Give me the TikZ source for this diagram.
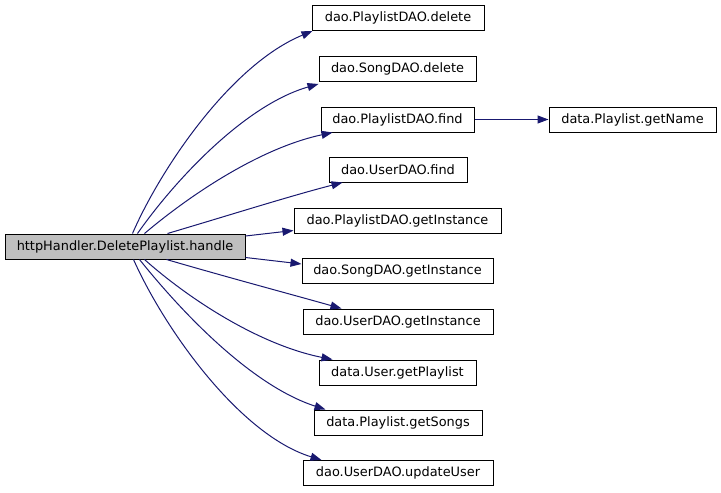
\documentclass[tikz,border=0pt]{standalone}
\usepackage{fontspec}
\setmainfont{DejaVu Sans}
\usetikzlibrary{arrows.meta}
\definecolor{edgeblue}{HTML}{191970}
\definecolor{mainfill}{HTML}{BFBFBF}
\begin{document}
\begin{tikzpicture}[x=1pt,y=-1pt,
  fn/.style={draw=black,line width=1pt,rectangle,inner sep=0pt,minimum height=25pt,
    font=\fontsize{12.9}{15}\selectfont,text=black},
  call/.style={draw=edgeblue,line width=1pt,-{Triangle[length=11pt,width=8pt]},fill=none}]
\useasboundingbox (0,0) rectangle (721,493);
\node[fn,fill=mainfill,minimum width=240pt] (main) at (125,246.5) {httpHandler.DeletePlaylist.handle};
\node[fn,minimum width=172pt] (pdel) at (398,18) {dao.PlaylistDAO.delete};
\node[fn,minimum width=157pt] (sdel) at (397.5,69) {dao.SongDAO.delete};
\node[fn,minimum width=153pt] (pfind) at (397.5,119.5) {dao.PlaylistDAO.find};
\node[fn,minimum width=167pt] (getname) at (632.5,119.5) {data.Playlist.getName};
\node[fn,minimum width=138pt] (ufind) at (398,169.5) {dao.UserDAO.find};
\node[fn,minimum width=207pt] (pinst) at (397.5,220.5) {dao.PlaylistDAO.getInstance};
\node[fn,minimum width=191pt] (sinst) at (397.5,270.5) {dao.SongDAO.getInstance};
\node[fn,minimum width=190pt] (uinst) at (398,321.5) {dao.UserDAO.getInstance};
\node[fn,minimum width=157pt] (ugetpl) at (397.5,372.5) {data.User.getPlaylist};
\node[fn,minimum width=168pt] (psongs) at (398,422.5) {data.Playlist.getSongs};
\node[fn,minimum width=190pt] (uupd) at (398,473) {dao.UserDAO.updateUser};

\draw[call] ([xshift=128pt]main.north west) .. controls (160,170) and (230,65) .. ([xshift=1pt]pdel.south west);
\draw[call] ([xshift=133pt]main.north west) .. controls (175,180) and (245,105) .. ([yshift=-2pt]sdel.south west);
\draw[call] ([xshift=140pt]main.north west) .. controls (190,195) and (260,148) .. ([xshift=12pt]pfind.south west);
\draw[call] ([xshift=163pt]main.north west) .. controls (230,215) and (290,196) .. ([xshift=14pt]ufind.south west);
\draw[call] ([yshift=10.5pt]main.east) -- ([yshift=-10pt]pinst.west);
\draw[call] ([yshift=-11pt]main.east) -- ([yshift=6.5pt]sinst.west);
\draw[call] ([xshift=162pt]main.south west) .. controls (230,278) and (290,294) .. ([xshift=39pt]uinst.north west);
\draw[call] ([xshift=140pt]main.south west) .. controls (190,300) and (260,345) .. ([xshift=14pt]ugetpl.north west);
\draw[call] ([xshift=135pt]main.south west) .. controls (180,310) and (250,385) .. ([xshift=12pt]psongs.north west);
\draw[call] ([xshift=129pt]main.south west) .. controls (165,330) and (240,435) .. ([xshift=19pt]uupd.north west);
\draw[call] (pfind.east) -- (getname.west);
\end{tikzpicture}
\end{document}
